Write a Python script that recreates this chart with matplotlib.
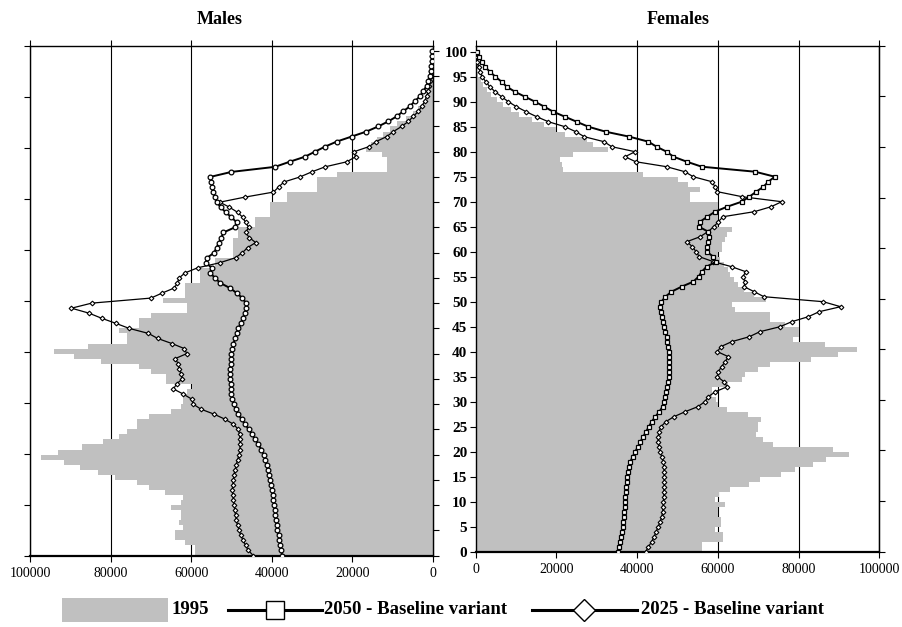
import numpy as np
import matplotlib
matplotlib.use("Agg")
import matplotlib.pyplot as plt
from matplotlib.patches import Rectangle

plt.rcParams['font.family'] = ['Liberation Serif', 'DejaVu Serif']

ages = np.arange(0, 101)

# values in thousands, ages 0..100
male_1995 = [59.0, 59.0, 61.5, 64.0, 64.0, 62.0, 63.0, 62.5, 62.5, 65.0,
             62.5, 62.0, 66.5, 70.5, 73.5, 79.0, 83.0, 87.5, 91.5, 97.3,
             93.0, 87.0, 82.0, 78.0, 76.0, 73.5, 73.5, 70.5, 65.0, 62.5,
             62.0, 62.0, 61.0, 59.8, 66.3, 66.3, 70.0, 73.0, 82.5, 89.0,
             94.0, 85.5, 76.0, 76.0, 78.0, 73.0, 73.0, 70.0, 61.0, 61.0,
             67.0, 61.5, 61.5, 61.5, 57.8, 57.8, 57.8, 54.0, 54.0, 49.5,
             49.5, 49.5, 49.5, 48.3, 48.3, 44.2, 44.2, 40.4, 40.4, 40.4,
             36.3, 36.3, 28.9, 28.9, 28.9, 23.9, 11.5, 11.5, 11.5, 12.7,
             16.7, 15.5, 14.0, 12.3, 10.6, 9.0, 6.8, 5.0, 3.6, 2.5,
             1.6, 1.1, 0.8, 0.5, 0.35, 0.25, 0.15, 0.1, 0.07, 0.04, 0.02]
male_2050 = [37.4, 37.7, 37.9, 38.1, 38.3, 38.6, 38.8, 39.0, 39.1, 39.3,
             39.4, 39.6, 39.8, 40.0, 40.2, 40.5, 40.8, 41.0, 41.3, 41.6,
             42.0, 42.6, 43.3, 44.1, 44.9, 45.7, 46.6, 47.5, 48.3, 49.0,
             49.4, 49.8, 50.0, 50.1, 50.2, 50.3, 50.3, 50.3, 50.2, 50.1,
             50.0, 49.8, 49.5, 49.1, 48.7, 48.3, 47.7, 47.2, 46.7, 46.3,
             46.4, 47.3, 48.7, 50.4, 52.8, 54.1, 55.3, 54.9, 56.4, 56.0,
             54.3, 53.7, 53.1, 52.5, 52.0, 49.2, 48.7, 50.0, 51.4, 52.7,
             53.6, 54.1, 54.5, 54.8, 55.0, 55.3, 50.0, 39.2, 35.6, 31.8,
             29.3, 26.8, 23.9, 20.2, 16.5, 13.6, 11.1, 9.0, 7.4, 5.7,
             4.5, 3.2, 2.4, 1.6, 1.2, 0.8, 0.6, 0.45, 0.35, 0.25, 0.2]
male_2025 = [44.6, 45.8, 46.5, 47.1, 47.7, 48.1, 48.5, 48.8, 49.0, 49.2,
             49.3, 49.5, 49.7, 49.8, 49.7, 49.5, 49.4, 49.1, 48.8, 48.5,
             48.1, 47.9, 47.9, 47.9, 48.0, 48.3, 49.5, 51.6, 54.3, 57.6,
             59.5, 59.9, 62.0, 64.4, 63.6, 62.2, 62.5, 63.0, 63.2, 64.0,
             61.1, 61.7, 64.8, 68.3, 70.6, 75.4, 78.7, 82.2, 85.3, 89.7,
             84.7, 70.0, 67.2, 64.2, 63.4, 63.0, 61.5, 58.4, 52.9, 49.0,
             47.3, 46.0, 44.0, 45.6, 46.5, 45.7, 46.5, 47.2, 48.5, 50.5,
             52.9, 46.7, 39.6, 38.3, 37.0, 33.0, 30.1, 26.8, 21.4, 19.2,
             19.6, 15.9, 14.1, 11.5, 9.8, 7.8, 6.1, 4.9, 3.6, 2.8,
             2.0, 1.6, 1.2, 0.9, 0.7, 0.5, 0.4, 0.3, 0.2, 0.15, 0.1]

female_1995 = [56.0, 56.0, 61.2, 61.2, 59.3, 60.8, 60.8, 60.1, 60.1, 61.8,
               59.3, 60.4, 63.0, 67.7, 70.4, 75.6, 79.1, 83.6, 86.8, 92.5,
               88.4, 73.6, 71.3, 69.4, 70.0, 70.0, 70.8, 67.5, 62.2, 60.1,
               59.5, 58.5, 58.5, 62.6, 65.9, 66.7, 70.0, 72.9, 83.0, 89.7,
               94.4, 86.5, 78.7, 80.0, 80.2, 76.6, 72.9, 73.0, 64.2, 63.4,
               72.0, 69.0, 66.5, 65.0, 64.0, 63.0, 62.5, 61.5, 60.5, 60.0,
               61.0, 61.0, 61.8, 62.2, 63.4, 60.0, 60.0, 60.0, 60.0, 60.1,
               53.1, 53.1, 55.6, 52.7, 50.2, 41.5, 21.7, 21.5, 21.0, 24.0,
               32.9, 29.0, 27.5, 22.0, 20.0, 16.9, 13.9, 10.8, 8.7, 6.8,
               5.2, 3.9, 2.7, 1.9, 1.2, 0.65, 0.25, 0.1, 0.05, 0.02, 0.01]
female_2050 = [35.2, 35.4, 35.7, 36.0, 36.2, 36.4, 36.6, 36.7, 36.8, 36.9,
               37.0, 37.1, 37.2, 37.3, 37.4, 37.6, 37.8, 38.0, 38.3, 38.9,
               39.5, 40.2, 40.8, 41.5, 42.2, 42.9, 43.6, 44.5, 45.5, 46.3,
               46.7, 46.9, 47.2, 47.5, 47.7, 47.9, 48.0, 48.0, 48.0, 48.0,
               47.9, 47.7, 47.5, 47.3, 47.0, 46.7, 46.4, 46.1, 45.9, 45.7,
               46.0, 47.0, 48.5, 51.0, 53.9, 55.2, 56.0, 57.2, 59.5, 58.9,
               57.2, 57.4, 57.6, 57.8, 57.6, 55.3, 55.6, 57.4, 59.3, 62.3,
               65.9, 67.8, 69.5, 71.3, 72.5, 74.1, 69.2, 56.0, 52.3, 49.0,
               47.3, 44.8, 42.8, 38.1, 32.2, 27.9, 25.0, 22.1, 19.2, 17.0,
               14.7, 12.2, 9.7, 7.7, 6.4, 4.9, 3.5, 2.3, 1.5, 0.7, 0.2]
female_2025 = [42.1, 42.8, 43.6, 44.2, 44.7, 45.2, 45.7, 46.1, 46.3, 46.4,
               46.5, 46.6, 46.6, 46.7, 46.7, 46.7, 46.7, 46.6, 46.5, 46.1,
               45.7, 45.4, 45.2, 45.2, 45.4, 45.9, 47.1, 49.1, 51.9, 55.0,
               56.8, 57.6, 59.4, 62.3, 61.5, 59.9, 60.1, 60.9, 61.8, 62.6,
               59.9, 60.7, 63.4, 67.8, 70.4, 75.4, 78.3, 82.4, 85.1, 90.4,
               86.1, 71.4, 69.0, 66.5, 66.7, 66.2, 66.9, 63.4, 58.9, 55.4,
               54.6, 53.7, 52.3, 55.6, 57.5, 59.0, 60.1, 61.3, 69.0, 73.2,
               75.8, 66.0, 59.9, 59.3, 58.5, 53.9, 51.8, 47.3, 39.6, 37.0,
               39.5, 33.7, 31.8, 26.9, 24.8, 22.1, 18.0, 15.1, 12.5, 10.1,
               8.1, 6.4, 4.8, 3.5, 2.5, 1.6, 1.1, 0.7, 0.4, 0.2, 0.1]

x_ticks = [0, 20000, 40000, 60000, 80000, 100000]
age_ticks = list(range(0, 101, 5))

fig = plt.figure(figsize=(9.03, 6.27), dpi=100)
axm = fig.add_axes([0.0332, 0.1140, 0.4463, 0.8131])
axf = fig.add_axes([0.5268, 0.1201, 0.4470, 0.8070])


def pyramid(ax, bars, l2050, l2025, mk2050, ms2050, ytop):
    ax.barh(ages, np.array(bars) * 1000, height=1.0, align='edge',
            color='#c0c0c0', linewidth=0, zorder=1)
    ax.plot(np.array(l2025) * 1000, ages, '-', color='black', lw=0.9,
            marker='D', ms=2.4, mfc='white', mec='black', mew=0.8, zorder=3)
    ax.plot(np.array(l2050) * 1000, ages, '-', color='black', lw=1.4,
            marker=mk2050, ms=ms2050, mfc='white', mec='black', mew=0.9, zorder=4)
    ax.set_ylim(0, ytop)
    ax.set_xticks(x_ticks)
    ax.set_xticklabels([str(v) for v in x_ticks], fontsize=10)
    ax.set_axisbelow(True)
    ax.grid(axis='x', color='black', lw=0.8)
    ax.tick_params(axis='x', top=True, direction='out', length=4, width=0.8, pad=4)
    for s in ax.spines.values():
        s.set_linewidth(1.0)
    ax.spines['bottom'].set_linewidth(1.6)


pyramid(axm, male_1995, male_2050, male_2025, 'o', 3.4, 101.0)
axm.set_xlim(100000, 0)
axm.set_yticks(np.linspace(0, 101.0, 11))
axm.tick_params(axis='y', left=True, right=False, labelleft=False,
                direction='out', length=4, width=0.8)
sm = axm.secondary_yaxis('right')
sm.set_yticks(age_ticks)
sm.set_yticklabels([])
sm.tick_params(direction='out', length=4, width=0.8)

pyramid(axf, female_1995, female_2050, female_2025, 's', 3.3, 101.2)
axf.set_xlim(0, 100000)
axf.set_yticks(age_ticks)
axf.set_yticklabels([str(a) for a in age_ticks], fontsize=11, fontweight='bold')
axf.tick_params(axis='y', left=True, right=False, direction='out',
                length=4, width=0.8, pad=2)
sf = axf.secondary_yaxis('right')
sf.set_yticks(np.linspace(0, 101.2, 11))
sf.set_yticklabels([])
sf.tick_params(direction='out', length=4, width=0.8)

fig.text(220 / 903, 1 - 20 / 627, 'Males', ha='center', va='center',
         fontsize=13, fontweight='bold')
fig.text(678 / 903, 1 - 20 / 627, 'Females', ha='center', va='center',
         fontsize=13, fontweight='bold')

# legend row, in pixel units
leg = fig.add_axes([0, 0, 1, 0.07])
leg.set_xlim(0, 903)
leg.set_ylim(0, 0.07 * 627)
leg.axis('off')
yc = 627 - 610
leg.add_patch(Rectangle((62, yc - 12), 106, 24, color='#c0c0c0', lw=0))
leg.text(172, yc, '1995', fontsize=13.5, fontweight='bold', va='center')
leg.plot([228, 322], [yc, yc], color='black', lw=2.2)
leg.plot([275], [yc], marker='s', ms=13, mfc='white', mec='black', mew=1.0)
leg.text(324, yc, '2050 - Baseline variant', fontsize=13.5, fontweight='bold', va='center')
leg.plot([532, 637], [yc, yc], color='black', lw=2.2)
leg.plot([584], [yc], marker='D', ms=11, mfc='white', mec='black', mew=1.0)
leg.text(641, yc, '2025 - Baseline variant', fontsize=13.5, fontweight='bold', va='center')

fig.savefig('out.png', dpi=100)
